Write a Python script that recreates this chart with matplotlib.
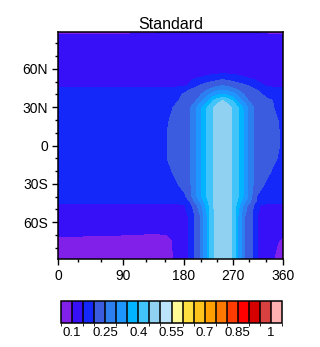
import numpy as np
import matplotlib
matplotlib.use("Agg")
import matplotlib.pyplot as plt
from matplotlib.colors import ListedColormap, BoundaryNorm
from matplotlib.cm import ScalarMappable
from matplotlib.ticker import FixedLocator

plt.rcParams['font.family'] = ['Liberation Sans', 'DejaVu Sans']

# grid
lons = [0, 40, 80, 120, 140, 150, 160, 170, 180, 190, 200, 210, 220, 230,
        240, 250, 260, 270, 280, 290, 300, 310, 320, 330, 340, 350, 360]
lats = [89, 85, 62, 56, 52, 47, 44, 40, 35, 30, 20, 10, 0, -10, -20, -30,
        -40, -44, -47, -55, -66, -70, -74, -89]

field = [
    # 89N
    [0.075, 0.076, 0.08, 0.092, 0.096, 0.099, 0.102, 0.105, 0.11, 0.11, 0.11, 0.11, 0.11, 0.11,
     0.11, 0.11, 0.11, 0.11, 0.11, 0.11, 0.108, 0.103, 0.095, 0.088, 0.085, 0.085, 0.085],
    # 85N
    [0.12] * 27,
    # 62N
    [0.12, 0.12, 0.12, 0.12, 0.12, 0.12, 0.12, 0.12, 0.12, 0.12, 0.12, 0.122, 0.124, 0.126,
     0.128, 0.13, 0.128, 0.126, 0.124, 0.122, 0.12, 0.12, 0.12, 0.12, 0.12, 0.12, 0.12],
    # 56N
    [0.12, 0.12, 0.12, 0.12, 0.12, 0.12, 0.12, 0.122, 0.125, 0.128, 0.132, 0.136, 0.14, 0.145,
     0.149, 0.152, 0.15, 0.147, 0.143, 0.138, 0.134, 0.13, 0.127, 0.124, 0.122, 0.12, 0.12],
    # 52N
    [0.125, 0.125, 0.125, 0.125, 0.125, 0.125, 0.125, 0.128, 0.133, 0.142, 0.153, 0.16, 0.17, 0.18,
     0.19, 0.195, 0.19, 0.18, 0.17, 0.16, 0.153, 0.148, 0.133, 0.128, 0.125, 0.125, 0.125],
    # 47N
    [0.13, 0.13, 0.13, 0.13, 0.13, 0.13, 0.13, 0.133, 0.14, 0.155, 0.19, 0.205, 0.22, 0.23,
     0.24, 0.248, 0.24, 0.23, 0.22, 0.21, 0.195, 0.17, 0.16, 0.145, 0.135, 0.13, 0.13],
    # 44N
    [0.17, 0.17, 0.17, 0.17, 0.17, 0.17, 0.173, 0.178, 0.185, 0.198, 0.21, 0.225, 0.24, 0.26,
     0.28, 0.29, 0.28, 0.26, 0.24, 0.225, 0.212, 0.203, 0.19, 0.18, 0.174, 0.17, 0.17],
    # 40N
    [0.17, 0.17, 0.17, 0.17, 0.17, 0.175, 0.18, 0.19, 0.205, 0.22, 0.235, 0.248, 0.285, 0.315,
     0.34, 0.352, 0.34, 0.315, 0.285, 0.248, 0.235, 0.22, 0.205, 0.19, 0.18, 0.175, 0.17],
    # 35N
    [0.17, 0.17, 0.17, 0.17, 0.17, 0.175, 0.185, 0.198, 0.21, 0.225, 0.245, 0.285, 0.33, 0.39,
     0.435, 0.452, 0.435, 0.39, 0.33, 0.285, 0.245, 0.225, 0.215, 0.21, 0.202, 0.185, 0.175],
    # 30N
    [0.17, 0.17, 0.17, 0.17, 0.172, 0.18, 0.195, 0.212, 0.228, 0.24, 0.285, 0.34, 0.395, 0.44,
     0.465, 0.485, 0.465, 0.44, 0.395, 0.34, 0.285, 0.24, 0.228, 0.215, 0.205, 0.19, 0.18],
    # 20N
    [0.17, 0.17, 0.17, 0.17, 0.178, 0.19, 0.205, 0.22, 0.23, 0.24, 0.285, 0.34, 0.398, 0.443,
     0.47, 0.49, 0.47, 0.443, 0.398, 0.34, 0.285, 0.24, 0.23, 0.222, 0.21, 0.201, 0.185],
    # 10N
    [0.17, 0.17, 0.17, 0.172, 0.18, 0.195, 0.21, 0.22, 0.23, 0.24, 0.285, 0.34, 0.398, 0.443,
     0.47, 0.49, 0.47, 0.443, 0.398, 0.34, 0.285, 0.24, 0.23, 0.222, 0.212, 0.205, 0.19],
    # 0
    [0.17, 0.17, 0.17, 0.172, 0.18, 0.195, 0.21, 0.22, 0.23, 0.24, 0.285, 0.34, 0.398, 0.443,
     0.47, 0.49, 0.47, 0.443, 0.398, 0.34, 0.285, 0.24, 0.23, 0.222, 0.212, 0.205, 0.19],
    # 10S
    [0.17, 0.17, 0.17, 0.171, 0.18, 0.194, 0.21, 0.22, 0.23, 0.24, 0.285, 0.34, 0.398, 0.443,
     0.47, 0.49, 0.47, 0.443, 0.398, 0.34, 0.285, 0.24, 0.23, 0.22, 0.21, 0.199, 0.185],
    # 20S
    [0.17, 0.17, 0.17, 0.17, 0.17, 0.18, 0.199, 0.215, 0.23, 0.24, 0.285, 0.34, 0.398, 0.443,
     0.47, 0.49, 0.47, 0.443, 0.398, 0.34, 0.285, 0.24, 0.23, 0.215, 0.198, 0.18, 0.172],
    # 30S
    [0.17, 0.17, 0.17, 0.17, 0.17, 0.172, 0.18, 0.199, 0.225, 0.24, 0.285, 0.34, 0.398, 0.443,
     0.47, 0.49, 0.47, 0.443, 0.398, 0.34, 0.285, 0.235, 0.215, 0.195, 0.18, 0.172, 0.17],
    # 40S
    [0.17, 0.17, 0.17, 0.17, 0.17, 0.17, 0.17, 0.175, 0.185, 0.225, 0.285, 0.34, 0.398, 0.443,
     0.47, 0.49, 0.47, 0.443, 0.398, 0.34, 0.285, 0.205, 0.185, 0.175, 0.17, 0.17, 0.17],
    # 44S
    [0.17, 0.17, 0.17, 0.17, 0.17, 0.17, 0.17, 0.172, 0.178, 0.198, 0.26, 0.31, 0.38, 0.44,
     0.47, 0.49, 0.47, 0.44, 0.38, 0.31, 0.26, 0.205, 0.18, 0.172, 0.17, 0.17, 0.17],
    # 47S
    [0.13, 0.13, 0.13, 0.13, 0.13, 0.13, 0.13, 0.133, 0.145, 0.175, 0.23, 0.285, 0.36, 0.438,
     0.47, 0.49, 0.47, 0.438, 0.36, 0.285, 0.23, 0.19, 0.145, 0.135, 0.13, 0.13, 0.13],
    # 55S
    [0.12, 0.12, 0.12, 0.12, 0.12, 0.12, 0.12, 0.12, 0.125, 0.16, 0.205, 0.257, 0.335, 0.435,
     0.47, 0.49, 0.47, 0.435, 0.335, 0.257, 0.22, 0.18, 0.12, 0.12, 0.12, 0.12, 0.12],
    # 66S
    [0.115, 0.115, 0.115, 0.115, 0.115, 0.115, 0.115, 0.118, 0.122, 0.16, 0.205, 0.257, 0.335, 0.435,
     0.47, 0.49, 0.47, 0.435, 0.335, 0.257, 0.22, 0.18, 0.115, 0.115, 0.115, 0.115, 0.113],
    # 70S
    [0.105, 0.103, 0.101, 0.097, 0.097, 0.098, 0.105, 0.115, 0.12, 0.16, 0.205, 0.257, 0.335, 0.435,
     0.47, 0.49, 0.47, 0.435, 0.335, 0.257, 0.22, 0.18, 0.112, 0.113, 0.11, 0.106, 0.104],
    # 74S
    [0.09, 0.09, 0.092, 0.09, 0.088, 0.09, 0.098, 0.11, 0.12, 0.16, 0.205, 0.257, 0.335, 0.435,
     0.47, 0.49, 0.47, 0.435, 0.335, 0.257, 0.22, 0.18, 0.11, 0.115, 0.108, 0.102, 0.095],
    # 89S
    [0.08, 0.08, 0.08, 0.08, 0.08, 0.085, 0.095, 0.11, 0.12, 0.16, 0.205, 0.257, 0.335, 0.435,
     0.47, 0.49, 0.47, 0.435, 0.335, 0.257, 0.22, 0.18, 0.11, 0.115, 0.105, 0.09, 0.085],
]

levels = [0.1, 0.15, 0.2, 0.25, 0.3, 0.35, 0.4, 0.45, 0.5, 0.55, 0.6, 0.65,
          0.7, 0.75, 0.8, 0.85, 0.9, 0.95, 1.0]
colors = ['#8020e8', '#3810f8', '#1428fa', '#3c5ce0', '#2d7ff0', '#1e96ff',
          '#00b4ff', '#40c4fa', '#90d0f0', '#bce4fa', '#fffa96', '#ffe040',
          '#ffc41c', '#ffa000', '#ff7800', '#ff3c00', '#ff0000', '#d70000',
          '#d94040', '#ffb0b0']
cbar_ticks = [0.1, 0.25, 0.4, 0.55, 0.7, 0.85, 1.0]

# irregular longitude axis: where each 30 deg tick sits (pixels)
axis_lon = [0, 30, 60, 90, 120, 150, 180, 210, 240, 270, 300, 330, 360]
axis_px = [58.3, 78.3, 100.7, 123.3, 145.7, 165, 184, 201, 217.3, 233.3,
           249.3, 266, 283.3]


def fwd(x):
    return np.interp(x, axis_lon, axis_px)


def inv(x):
    return np.interp(x, axis_px, axis_lon)


def main():
    fig = plt.figure(figsize=(3.2, 3.47), dpi=100)
    ax = fig.add_axes([58.3 / 320, 1 - 259 / 347, 225 / 320, 227 / 347])

    cmap = ListedColormap(colors[1:-1])
    cmap.set_under(colors[0])
    cmap.set_over(colors[-1])
    ax.set_xscale('function', functions=(fwd, inv))
    ax.contourf(lons, lats, np.array(field), levels=levels, cmap=cmap,
                extend='both', antialiased=False)
    ax.set_xlim(0, 360)
    ax.set_ylim(-89, 89)

    ax.xaxis.set_major_locator(FixedLocator([0, 90, 180, 270, 360]))
    ax.xaxis.set_minor_locator(FixedLocator(axis_lon))
    ax.set_xticklabels(['0', '90', '180', '270', '360'])
    ax.yaxis.set_major_locator(FixedLocator([60, 30, 0, -30, -60]))
    ax.yaxis.set_minor_locator(FixedLocator(range(-80, 81, 10)))
    ax.set_yticklabels(['60N', '30N', '0', '30S', '60S'])
    ax.tick_params(which='major', direction='out', length=4.5, width=1,
                   labelsize=10, pad=3)
    ax.tick_params(which='minor', direction='out', length=2.5, width=1)
    for s in ax.spines.values():
        s.set_linewidth(1.1)
    ax.set_title('Standard', fontsize=11.5, pad=2)

    cax = fig.add_axes([61 / 320, 1 - 323 / 347, 221 / 320, 22 / 347])
    bounds = [0.05] + levels + [1.05]
    sm = ScalarMappable(norm=BoundaryNorm(bounds, len(colors)),
                        cmap=ListedColormap(colors))
    cb = fig.colorbar(sm, cax=cax, orientation='horizontal', drawedges=True,
                      ticks=cbar_ticks)
    cb.ax.set_xticklabels(['0.1', '0.25', '0.4', '0.55', '0.7', '0.85', '1'])
    cb.ax.tick_params(length=0, labelsize=9.5, pad=3)
    cb.outline.set_linewidth(1.1)
    cb.dividers.set_linewidth(1.1)

    fig.savefig('out.png', dpi=100)


if __name__ == "__main__":
    main()
